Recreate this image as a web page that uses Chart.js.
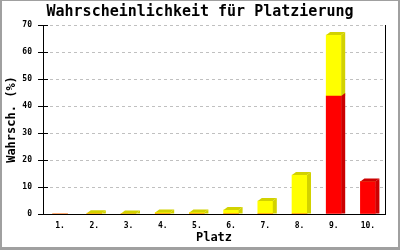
<!DOCTYPE html>
<html>
<head>
<meta charset="utf-8">
<script src="https://cdn.jsdelivr.net/npm/chart.js@4/dist/chart.umd.min.js"></script>
<style>
  html, body { margin: 0; padding: 0; background: #fff; }
  canvas { display: block; }
</style>
</head>
<body>
<canvas id="chart" width="400" height="250"></canvas>
<script>
const TITLE = 'Wahrscheinlichkeit für Platzierung';
const X_TITLE = 'Platz';
const Y_TITLE = 'Wahrsch. (%)';

const places = ['1.', '2.', '3.', '4.', '5.', '6.', '7.', '8.', '9.', '10.'];
const redValues = [0, 0, 0, 0, 0, 0, 0, 0, 43.7, 12.0];
const yellowValues = [0, 0.3, 0.2, 0.6, 0.6, 1.5, 4.8, 14.4, 22.6, 0];
const yMin = 0;
const yMax = 70;
const yStep = 10;

const MONO = '"DejaVu Sans Mono", "Liberation Mono", monospace';
const DEPTH_X = 4;
const DEPTH_Y = 3;
const SIDE_COLORS = ['#cc0000', '#d2d200'];

// fake 3D: top and right side of every bar, plus inner tick stubs, right edge, frame
const bar3d = {
  id: 'bar3d',
  afterDatasetsDraw(chart) {
    const ctx = chart.ctx;
    const metas = chart.data.datasets.map((_, i) => chart.getDatasetMeta(i));
    ctx.save();
    for (let d = metas.length - 1; d >= 0; d--) {
      metas[d].data.forEach((bar, i) => {
        const v = chart.data.datasets[d].data[i];
        if (!v) return;
        const left = bar.x - bar.width / 2;
        const right = bar.x + bar.width / 2;
        const top = Math.min(bar.y, bar.base);
        const bottom = Math.max(bar.y, bar.base);
        ctx.fillStyle = SIDE_COLORS[d];
        ctx.beginPath();
        ctx.moveTo(right, top);
        ctx.lineTo(right + DEPTH_X, top - DEPTH_Y);
        ctx.lineTo(right + DEPTH_X, bottom);
        ctx.lineTo(right, bottom);
        ctx.closePath();
        ctx.fill();
        // top face only on the highest non-zero segment
        const above = chart.data.datasets.slice(d + 1).some(ds => ds.data[i]);
        if (!above) {
          ctx.beginPath();
          ctx.moveTo(left, top);
          ctx.lineTo(left + DEPTH_X, top - DEPTH_Y);
          ctx.lineTo(right + DEPTH_X, top - DEPTH_Y);
          ctx.lineTo(right, top);
          ctx.closePath();
          ctx.fill();
        }
      });
    }
    ctx.restore();
  },
  afterDraw(chart) {
    const ctx = chart.ctx;
    const area = chart.chartArea;
    const y = chart.scales.y;
    ctx.save();
    ctx.strokeStyle = '#000';
    ctx.lineWidth = 1;
    ctx.beginPath();
    y.ticks.forEach(t => {
      const py = Math.round(y.getPixelForValue(t.value)) + 0.5;
      ctx.moveTo(area.left, py);
      ctx.lineTo(area.left + 5, py);
    });
    const rx = Math.round(area.right) + 0.5;
    ctx.moveTo(rx, area.top);
    ctx.lineTo(rx, area.bottom);
    ctx.stroke();
    ctx.fillStyle = '#a0a0a0';
    const w = chart.width, h = chart.height;
    ctx.fillRect(0, 0, w, 1);
    ctx.fillRect(0, 0, 2, h);
    ctx.fillRect(w - 2, 0, 2, h);
    ctx.fillRect(0, h - 3, w, 3);
    ctx.restore();
  }
};

Chart.defaults.color = '#000';
Chart.defaults.font.family = MONO;

new Chart(document.getElementById('chart'), {
  type: 'bar',
  data: {
    labels: places,
    datasets: [
      { data: redValues, backgroundColor: '#ff0000', barThickness: 15 },
      { data: yellowValues, backgroundColor: '#ffff00', barThickness: 15 }
    ]
  },
  options: {
    responsive: false,
    animation: false,
    layout: { padding: 0 },
    plugins: {
      legend: { display: false },
      tooltip: { enabled: false },
      title: {
        display: true,
        text: TITLE,
        color: '#000',
        font: { family: MONO, size: 15, weight: 'bold', lineHeight: 1.2 },
        padding: { top: 3, bottom: 4 }
      }
    },
    scales: {
      x: {
        stacked: true,
        afterFit(scale) { scale.height = 36; },
        grid: { display: false, drawTicks: false },
        border: { display: true, color: '#000', width: 1 },
        ticks: {
          padding: 7,
          maxRotation: 0,
          autoSkip: false,
          font: { family: MONO, size: 8, weight: 'bold' }
        },
        title: {
          display: true,
          text: X_TITLE,
          font: { family: MONO, size: 12, weight: 'bold' },
          padding: { top: 0, bottom: 5 }
        }
      },
      y: {
        stacked: true,
        min: yMin,
        max: yMax,
        afterFit(scale) { scale.width = 43; },
        grid: {
          color: ctx => ctx.tick && ctx.tick.value === 0 ? 'rgba(0,0,0,0)' : '#c0c0c0',
          tickColor: '#000',
          tickLength: 5,
          tickBorderDash: []
        },
        border: { display: true, color: '#000', width: 1, dash: [3, 3] },
        ticks: {
          stepSize: yStep,
          padding: 6,
          font: { family: MONO, size: 8, weight: 'bold' }
        },
        title: {
          display: true,
          text: Y_TITLE,
          font: { family: MONO, size: 12, weight: 'bold' },
          padding: { top: 5, bottom: 0 }
        }
      },
      // empty right-hand strip so the plot ends at x=385 while the title stays centred
      spacer: {
        type: 'linear',
        position: 'right',
        afterFit(scale) { scale.width = 15; },
        grid: { display: false, drawTicks: false },
        border: { display: false },
        ticks: { display: false }
      }
    }
  },
  plugins: [bar3d]
});
</script>
</body>
</html>
